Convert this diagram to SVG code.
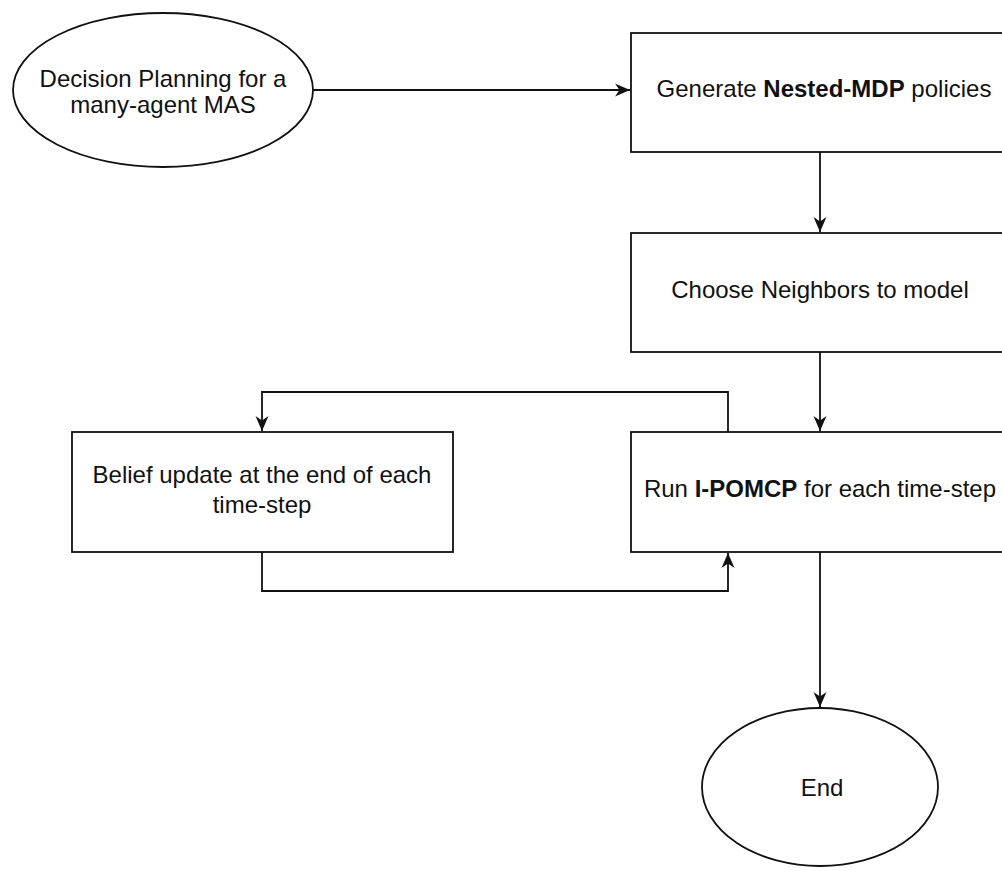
<svg xmlns="http://www.w3.org/2000/svg" width="1002" height="871" viewBox="0 0 1002 871">
<style>
.s{fill:#fff;stroke:#111;stroke-width:1.8}
.t{font-family:"Liberation Sans",Arial,sans-serif;font-size:24px;fill:#111;text-anchor:middle}
.c{fill:none;stroke:#111;stroke-width:1.8}
</style>
<defs>
<marker id="a" markerWidth="16" markerHeight="16" viewBox="0 0 16 16" refX="15" refY="8" orient="auto" markerUnits="userSpaceOnUse">
<path d="M0,1.5 L15,8 L0,14.5 L4.5,8 Z" fill="#111"/>
</marker>
</defs>
<rect width="1002" height="871" fill="#fff"/>
<g id="start">
<ellipse class="s" cx="163" cy="90" rx="150" ry="77"/>
<text class="t" x="163" y="87">Decision Planning for a</text>
<text class="t" x="163" y="113">many-agent MAS</text>
</g>
<g id="gen">
<rect class="s" x="631" y="33" width="378" height="119"/>
<text class="t" x="824" y="97">Generate <tspan font-weight="bold">Nested-MDP</tspan> policies</text>
</g>
<g id="choose">
<rect class="s" x="631" y="233" width="378" height="119"/>
<text class="t" x="820" y="298">Choose Neighbors to model</text>
</g>
<g id="run">
<rect class="s" x="631" y="432" width="378" height="120"/>
<text class="t" x="820" y="497">Run <tspan font-weight="bold">I-POMCP</tspan> for each time-step</text>
</g>
<g id="belief">
<rect class="s" x="72" y="432" width="381" height="120"/>
<text class="t" x="262" y="483">Belief update at the end of each</text>
<text class="t" x="262" y="513">time-step</text>
</g>
<g id="end">
<ellipse class="s" cx="820" cy="787" rx="118" ry="79"/>
<text class="t" x="822" y="796">End</text>
</g>
<g id="connectors">
<path class="c" d="M313,90 L630,90" marker-end="url(#a)"/>
<path class="c" d="M820,152 L820,232" marker-end="url(#a)"/>
<path class="c" d="M820,352 L820,431" marker-end="url(#a)"/>
<path class="c" d="M728,432 L728,392 L262,392 L262,431" marker-end="url(#a)"/>
<path class="c" d="M262,552 L262,591 L728,591 L728,553" marker-end="url(#a)"/>
<path class="c" d="M820,552 L820,707" marker-end="url(#a)"/>
</g>
</svg>
